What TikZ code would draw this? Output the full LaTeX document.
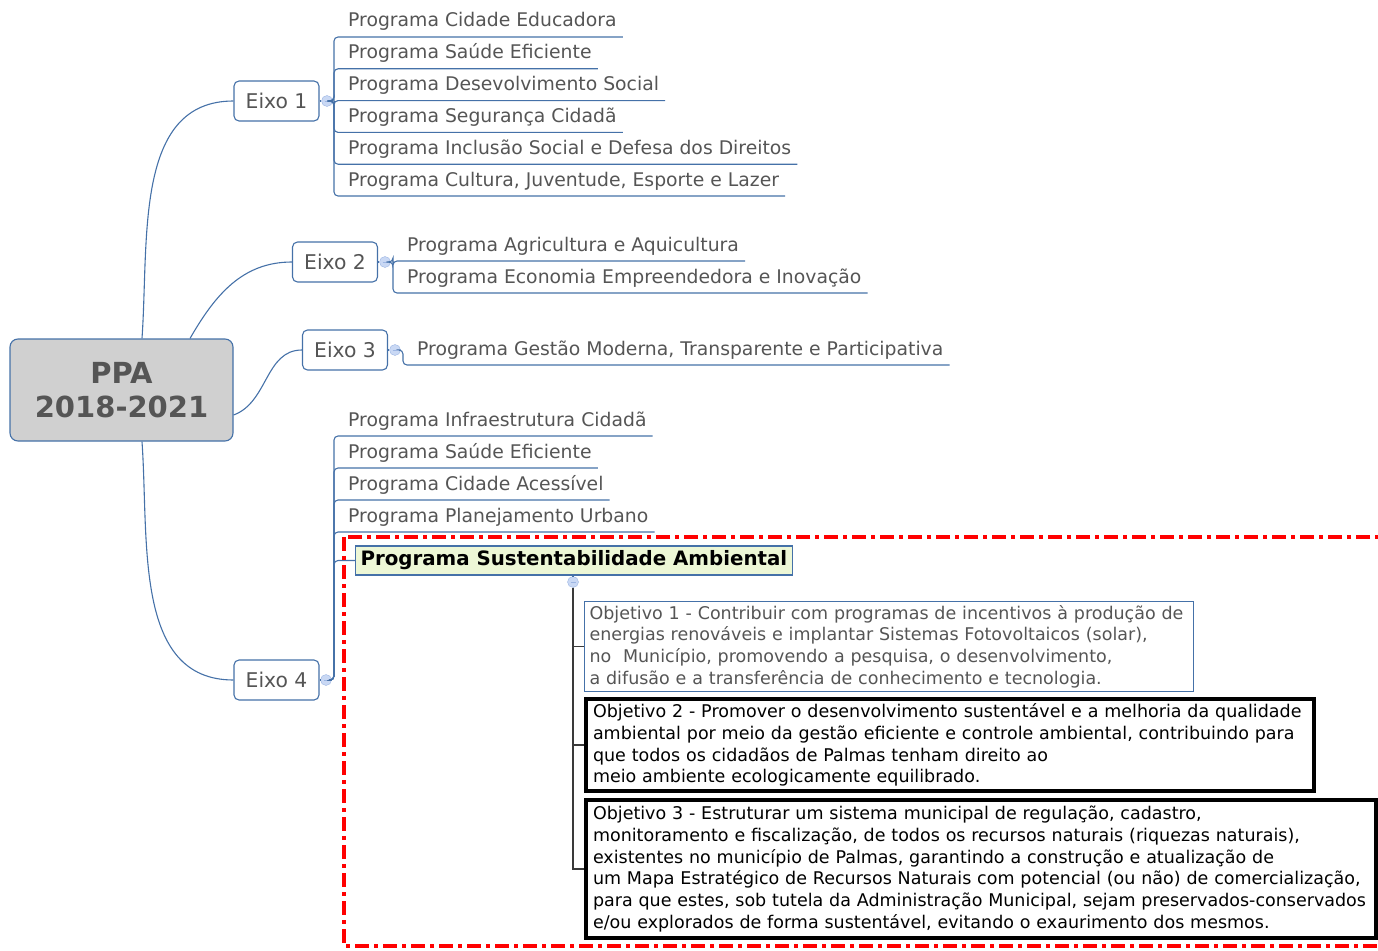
\documentclass[tikz,border=0pt]{standalone}
\usepackage{fontspec}
\setmainfont{DejaVu Sans}

\definecolor{linkblue}{HTML}{4571A8}
\definecolor{txtgray}{HTML}{555555}
\definecolor{rootfill}{HTML}{D0D0D0}
\definecolor{togfill}{HTML}{C9D8F4}
\definecolor{togline}{HTML}{9DB6E3}
\definecolor{sustfill}{HTML}{EDF7D6}
\definecolor{objline}{HTML}{3A3A3A}

\tikzset{
  root/.style={draw=linkblue, line width=1.1pt, fill=rootfill, rounded corners=8pt,
    minimum width=223pt, minimum height=102pt, align=center, text=txtgray,
    font=\fontsize{29}{34}\selectfont\bfseries},
  eixo/.style={draw=linkblue, line width=1.1pt, fill=white, rounded corners=5pt,
    minimum width=85pt, minimum height=40pt, text=txtgray, font=\fontsize{20.3}{22}\selectfont},
  toggle/.style={circle, fill=togfill, draw=togline, inner sep=0pt, minimum size=11pt,
    path picture={\draw[togline] ([xshift=-2.5pt]path picture bounding box.center)
      -- ([xshift=2.5pt]path picture bounding box.center);}},
  prog/.style={anchor=base west, inner sep=0pt, text=txtgray, font=\fontsize{18.8}{22}\selectfont},
  link/.style={draw=linkblue, line width=1.1pt, rounded corners=4pt},
  objlink/.style={draw=objline, line width=1.1pt},
  sust/.style={draw=linkblue, line width=1.1pt, fill=sustfill, anchor=west, inner xsep=5pt,
    minimum height=29pt, inner ysep=2pt, font=\fontsize{19.8}{22}\selectfont\bfseries},
  objbox/.style={anchor=north west, align=left, inner ysep=0pt,
    font=\fontsize{17.5}{21.7}\selectfont},
  redbox/.style={draw=red, line width=4pt, dash pattern=on 14pt off 5pt on 4pt off 5pt}
}

\begin{document}
\begin{tikzpicture}[x=1pt, y=-1pt]
  \useasboundingbox (0,0) rectangle (1378,950);

  \node[root] (root) at (121.5,390) {PPA\\2018-2021};

  \node[eixo] (e1) at (276.5,101) {Eixo 1};
  \node[eixo] (e2) at (335,262) {Eixo 2};
  \node[eixo] (e3) at (345,350) {Eixo 3};
  \node[eixo] (e4) at (276.5,680) {Eixo 4};

  \draw[link] ([xshift=20.5pt]root.north) to[out=86, in=180] (e1.west);
  \draw[link] ([xshift=68.5pt]root.north) to[out=60, in=180] (e2.west);
  \draw[link] ([yshift=-25pt]root.east) to[out=20, in=180] (e3.west);
  \draw[link] ([xshift=20.5pt]root.south) to[out=-86, in=180] (e4.west);

  \node[toggle] (c1) at (327,101) {};
  \node[toggle] (c2) at (385,262) {};
  \node[toggle] (c3) at (395,350) {};
  \node[toggle] (c4) at (326,680) {};
  \draw[link] (e1.east) -- (c1.west);
  \draw[link] (e2.east) -- (c2.west);
  \draw[link] (e3.east) -- (c3.west);
  \draw[link] (e4.east) -- (c4.west);

  % Eixo 1
  \foreach \t [count=\i] in {Programa Cidade Educadora, Programa Saúde Eficiente,
      Programa Desevolvimento Social, Programa Segurança Cidadã,
      Programa Inclusão Social e Defesa dos Direitos,
      {Programa Cultura, Juventude, Esporte e Lazer}}{
    \node[prog] (a\i) at (348,27+31.8*\i-31.8) {\t};
    \draw[link] (c1.east) -| ([shift={(-14,10)}]a\i.base west) -- ([shift={(6,10)}]a\i.base east);
  }

  % Eixo 2
  \foreach \t [count=\i] in {Programa Agricultura e Aquicultura,
      Programa Economia Empreendedora e Inovação}{
    \node[prog] (b\i) at (407,251+32*\i-32) {\t};
    \draw[link] (c2.east) -| ([shift={(-14,10)}]b\i.base west) -- ([shift={(6,10)}]b\i.base east);
  }

  % Eixo 3
  \node[prog] (g1) at (417,355) {Programa Gestão Moderna, Transparente e Participativa};
  \draw[link] (c3.east) -| ([shift={(-14,10)}]g1.base west) -- ([shift={(6,10)}]g1.base east);

  % Eixo 4
  \foreach \t [count=\i] in {Programa Infraestrutura Cidadã, Programa Saúde Eficiente,
      Programa Cidade Acessível, Programa Planejamento Urbano}{
    \node[prog] (d\i) at (348,426+32*\i-32) {\t};
    \draw[link] (c4.east) -| ([shift={(-14,10)}]d\i.base west) -- ([shift={(6,10)}]d\i.base east);
  }

  \node[sust] (s) at (355,560.5) {Programa Sustentabilidade Ambiental};
  \draw[link] (c4.east) -| ([xshift=-21pt]s.west) -- (s.west);

  \node[toggle] (c5) at (573,582) {};
  \draw[link] (s.south -| c5) -- (c5.north);

  \node[objbox, draw=linkblue, line width=1.1pt, text=txtgray, inner xsep=5pt,
    text width=599pt, minimum height=90pt] (o1) at (584,601)
    {Objetivo 1 - Contribuir com programas de incentivos à produção de\\
     energias renováveis e implantar Sistemas Fotovoltaicos (solar),\\
     no\ \ Município, promovendo a pesquisa, o desenvolvimento,\\
     a difusão e a transferência de conhecimento e tecnologia.};
  \node[objbox, draw=black, line width=4pt, inner xsep=7pt,
    text width=714pt, minimum height=92pt] (o2) at (584,697)
    {Objetivo 2 - Promover o desenvolvimento sustentável e a melhoria da qualidade\\
     ambiental por meio da gestão eficiente e controle ambiental, contribuindo para\\
     que todos os cidadãos de Palmas tenham direito ao\\
     meio ambiente ecologicamente equilibrado.};
  \node[objbox, draw=black, line width=4pt, inner xsep=7pt,
    text width=776pt, minimum height=138pt] (o3) at (584,798)
    {Objetivo 3 - Estruturar um sistema municipal de regulação, cadastro,\\
     monitoramento e fiscalização, de todos os recursos naturais (riquezas naturais),\\
     existentes no município de Palmas, garantindo a construção e atualização de\\
     um Mapa Estratégico de Recursos Naturais com potencial (ou não) de comercialização,\\
     para que estes, sob tutela da Administração Municipal, sejam preservados-conservados\\
     e/ou explorados de forma sustentável, evitando o exaurimento dos mesmos.};

  \draw[objlink] (c5.south) |- (o1.west);
  \draw[objlink] (c5.south) |- (o2.west);
  \draw[objlink] (c5.south) |- (o3.west);

  \draw[redbox] (344,537) rectangle (1400,946);
\end{tikzpicture}
\end{document}
